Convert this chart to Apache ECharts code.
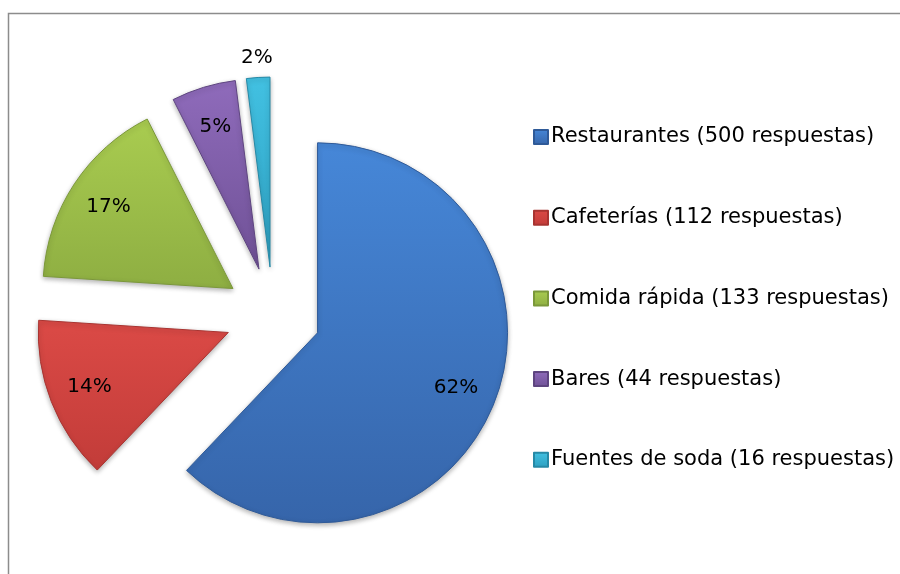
<!DOCTYPE html>
<html>
<head>
<meta charset="utf-8">
<script src="https://cdn.jsdelivr.net/npm/echarts@6/dist/echarts.min.js"></script>
<style>
  html, body { margin: 0; padding: 0; background: #fff; }
  #chart { width: 900px; height: 574px; }
</style>
</head>
<body>
<div id="chart"></div>
<script>
const categories = ['Restaurantes', 'Cafeterías', 'Comida rápida', 'Bares', 'Fuentes de soda'];
const responses = [500, 112, 133, 44, 16];

// light top -> dark bottom, like the bevelled office look
const shades = [
  ['#4687d8', '#3665aa', '#2f5a98'],
  ['#db4a46', '#c23c39', '#a83431'],
  ['#a9cc50', '#8eae42', '#7b983a'],
  ['#8f6bbb', '#6f5196', '#5e4580'],
  ['#42c1e2', '#2d9fc0', '#2689a6']
];

function grad(s) {
  return {
    type: 'linear', x: 0, y: 0, x2: 0, y2: 1,
    colorStops: [{ offset: 0, color: s[0] }, { offset: 1, color: s[1] }]
  };
}

const font = '"DejaVu Sans", "Open Sans", sans-serif';
const center = [273, 315];
const explode = 48;

const sliceData = categories.map((name, i) => ({
  name: name,
  value: responses[i],
  selected: true,
  itemStyle: { color: grad(shades[i]), borderColor: shades[i][2], borderWidth: 1 }
}));

const labelData = categories.map((name, i) => {
  const d = { name: name, value: responses[i], selected: true };
  if (i === 4) {
    // the tiny slice gets its label above the wedge
    d.label = { position: 'outside' };
    d.labelLine = { show: false, length: 20, length2: 0 };
  }
  return d;
});

const chart = echarts.init(document.getElementById('chart'));
chart.setOption({
  animation: false,
  graphic: [{
    type: 'rect',
    shape: { x: 8.5, y: 13.5, width: 1000, height: 1000 },
    style: { fill: 'none', stroke: '#8c8c8c', lineWidth: 1.5 },
    silent: true
  }],
  legend: {
    orient: 'vertical',
    left: 528,
    top: 120,
    itemWidth: 14,
    itemHeight: 14,
    itemGap: 56.7,
    icon: 'rect',
    data: categories,
    selectedMode: false,
    formatter: name => name + ' (' + responses[categories.indexOf(name)] + ' respuestas)',
    textStyle: { fontFamily: font, fontSize: 21, lineHeight: 24, color: '#000', padding: [0, 0, 0, -2] }
  },
  series: [
    {
      type: 'pie',
      center: center,
      radius: 190,
      startAngle: 90,
      selectedMode: 'multiple',
      selectedOffset: explode,
      silent: true,
      label: { show: false },
      labelLine: { show: false },
      itemStyle: { shadowBlur: 5, shadowColor: 'rgba(0,0,0,0.3)', shadowOffsetY: 2 },
      emphasis: { disabled: true },
      data: sliceData
    },
    {
      type: 'pie',
      center: center,
      radius: [102, 190],
      startAngle: 90,
      selectedMode: 'multiple',
      selectedOffset: explode,
      silent: true,
      itemStyle: { color: 'rgba(0,0,0,0)' },
      label: {
        show: true,
        position: 'inside',
        formatter: p => Math.round(p.percent) + '%',
        fontFamily: font,
        fontSize: 20,
        color: '#000'
      },
      labelLayout: p => (p.dataIndex === 4 ? { align: 'center', dx: 5 } : {}),
      labelLine: { show: false },
      emphasis: { disabled: true },
      data: labelData
    }
  ]
});
</script>
</body>
</html>
